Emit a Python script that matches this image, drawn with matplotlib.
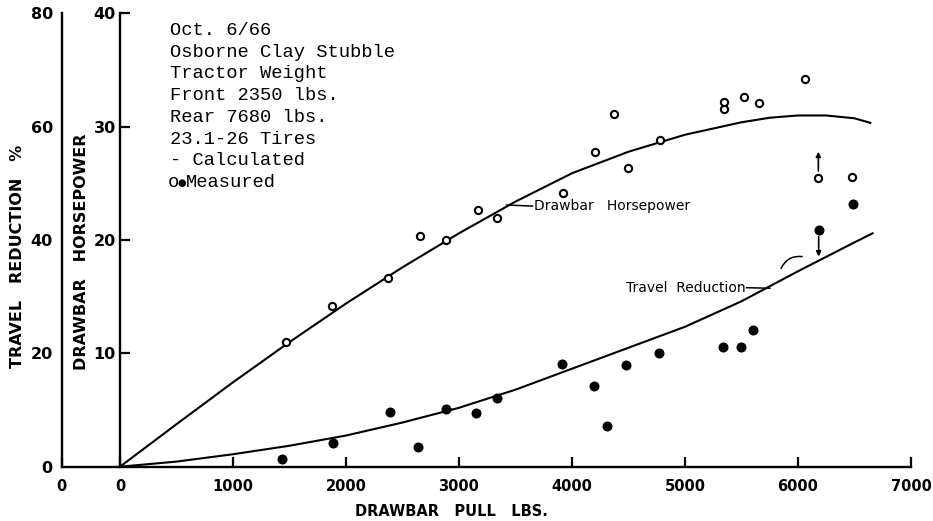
import matplotlib
matplotlib.use("Agg")
import matplotlib.pyplot as plt

# ---------------- data ----------------
# Calculated curves (drawbar pull lbs -> value)
hp_curve_x = [0, 500, 1000, 1500, 2000, 2500, 3000, 3500, 4000, 4500, 5000, 5500, 5750, 6000, 6250, 6500, 6640]
hp_curve_y = [0, 3.75, 7.45, 11.0, 14.4, 17.6, 20.6, 23.4, 25.9, 27.8, 29.3, 30.4, 30.8, 31.0, 31.0, 30.75, 30.35]

tr_curve_x = [0, 500, 1000, 1500, 2000, 2500, 3000, 3500, 4000, 4500, 5000, 5500, 6000, 6500, 6660]
tr_curve_y = [0, 0.9, 2.2, 3.7, 5.5, 7.8, 10.4, 13.6, 17.3, 21.0, 24.7, 29.2, 34.5, 39.6, 41.2]

# Measured drawbar horsepower (open circles)
hp_meas_x = [1465, 1874, 2376, 2659, 2889, 3168, 3333, 3917, 4200, 4368, 4500, 4775,
             5349, 5349, 5520, 5659, 6059, 6180, 6475]
hp_meas_y = [10.98, 14.18, 16.63, 20.39, 19.98, 22.63, 21.95, 24.2, 27.75, 31.13, 26.4, 28.83,
             32.2, 31.55, 32.66, 32.07, 34.2, 25.5, 25.54]

# Measured travel reduction % (filled circles)
tr_meas_x = [1432, 1886, 2390, 2641, 2882, 3148, 3336, 3911, 4194, 4312, 4474, 4768,
             5340, 5497, 5600, 6183, 6484]
tr_meas_y = [1.3, 4.1, 9.6, 3.5, 10.1, 9.5, 12.1, 18.2, 14.2, 7.2, 17.9, 20.1,
             21.1, 21.1, 24.1, 41.7, 46.3]

x_ticks = [-515, 0, 1000, 2000, 3000, 4000, 5000, 6000, 7000]
x_tick_labels = ["0", "0", "1000", "2000", "3000", "4000", "5000", "6000", "7000"]
tr_ticks = [0, 20, 40, 60, 80]
hp_ticks = [10, 20, 30, 40]

info_lines = ["Oct. 6/66", "Osborne Clay Stubble", "Tractor Weight", "Front 2350 lbs.",
              "Rear 7680 lbs.", "23.1-26 Tires", "- Calculated"]

# ---------------- figure ----------------
W, H = 933, 521
fig = plt.figure(figsize=(W / 100, H / 100), dpi=100)
fig.patch.set_facecolor("white")

left_px, right_px, bot_px, top_px = 61.8, 911.0, 466.7, 13.5
ax = fig.add_axes([left_px / W, (H - bot_px) / H, (right_px - left_px) / W, (bot_px - top_px) / H])
ax.set_xlim(-515, 7000)
ax.set_ylim(0, 80)
for s in ("top", "right"):
    ax.spines[s].set_visible(False)
for s in ("left", "bottom"):
    ax.spines[s].set_linewidth(1.7)

ax.set_xticks(x_ticks)
ax.set_xticklabels(x_tick_labels)
ax.tick_params(axis="x", direction="in", length=7, width=1.6, pad=8.5,
               labelsize=10.5)
ax.set_yticks(tr_ticks)
ax.set_yticklabels([str(t) for t in tr_ticks])
ax.tick_params(axis="y", length=0, pad=6.5, labelsize=11.5)
for lab in ax.get_yticklabels():
    lab.set_fontweight("bold")
for lab in ax.get_xticklabels():
    lab.set_fontweight("bold")

# Horsepower axis at x = 0
axh = ax.twinx()
axh.set_ylim(0, 40)
for s in ("top", "right", "bottom"):
    axh.spines[s].set_visible(False)
axh.spines["left"].set_visible(True)
axh.spines["left"].set_position(("data", 0))
axh.spines["left"].set_linewidth(1.7)
axh.yaxis.set_ticks_position("left")
axh.set_yticks(hp_ticks)
axh.set_yticklabels([str(t) for t in hp_ticks])
axh.tick_params(axis="y", direction="in", length=7.2, width=1.6, pad=3.0, labelsize=11.5)
for lab in axh.get_yticklabels():
    lab.set_fontweight("bold")

# curves
axh.plot(hp_curve_x, hp_curve_y, color="black", lw=1.5, solid_joinstyle="round")
ax.plot(tr_curve_x, tr_curve_y, color="black", lw=1.5, solid_joinstyle="round")

# measured points
axh.plot(hp_meas_x, hp_meas_y, linestyle="none", marker="o", ms=5.2,
         mfc="white", mec="black", mew=1.5)
ax.plot(tr_meas_x, tr_meas_y, linestyle="none", marker="o", ms=6.2,
        mfc="black", mec="black")

# arrows
axh.annotate("", xy=(hp_meas_x[17], 27.8), xytext=(hp_meas_x[17], 26.1),
             arrowprops=dict(arrowstyle="-|>", color="black", lw=1.2,
                             mutation_scale=7, shrinkA=0, shrinkB=0))
ax.annotate("", xy=(tr_meas_x[15], 37.1), xytext=(tr_meas_x[15], 40.6),
            arrowprops=dict(arrowstyle="-|>", color="black", lw=1.2,
                            mutation_scale=7, shrinkA=0, shrinkB=0))
# small arc mark
ax.annotate("", xy=(6036, 37.1), xytext=(5850, 35.0),
            arrowprops=dict(arrowstyle="-", color="black", lw=1.1,
                            connectionstyle="arc3,rad=-0.35", shrinkA=0, shrinkB=0))

# curve labels with leaders
axh.plot([3421, 3650], [23.1, 23.0], color="black", lw=1.1)
axh.text(3665, 23.0, "Drawbar   Horsepower", ha="left", va="center",
         fontsize=10, family="DejaVu Sans")
ax.plot([5545, 5750], [31.6, 31.5], color="black", lw=1.1)
ax.text(5540, 31.6, "Travel  Reduction", ha="right", va="center",
        fontsize=10, family="DejaVu Sans")

# axis titles
fig.text(18 / W, 1 - 256 / H, "TRAVEL   REDUCTION   %", rotation=90,
         ha="center", va="center", fontsize=11.5, fontweight="bold")
fig.text(81 / W, 1 - 252 / H, "DRAWBAR   HORSEPOWER", rotation=90,
         ha="center", va="center", fontsize=11.5, fontweight="bold")
fig.text(451 / W, 1 - 512 / H, "DRAWBAR   PULL   LBS.", ha="center", va="center",
         fontsize=10.5, fontweight="bold")

# info block
mono = "Liberation Mono"
for i, line in enumerate(info_lines):
    fig.text(170 / W, 1 - (35 + 21.7 * i) / H, line, ha="left", va="baseline",
             fontsize=13.5, family=mono)
ylast = 1 - (35 + 21.7 * 7) / H
fig.text(168 / W, ylast, "o", ha="left", va="baseline", fontsize=13.5, family=mono)
fig.text(177.5 / W, ylast + 0.5 / H, "\u25CF", ha="left", va="baseline",
         fontsize=7.0, family=["DejaVu Sans"])
fig.text(185.5 / W, ylast, "Measured", ha="left", va="baseline",
         fontsize=13.5, family=mono)

fig.savefig("out.png", dpi=100, facecolor="white")
